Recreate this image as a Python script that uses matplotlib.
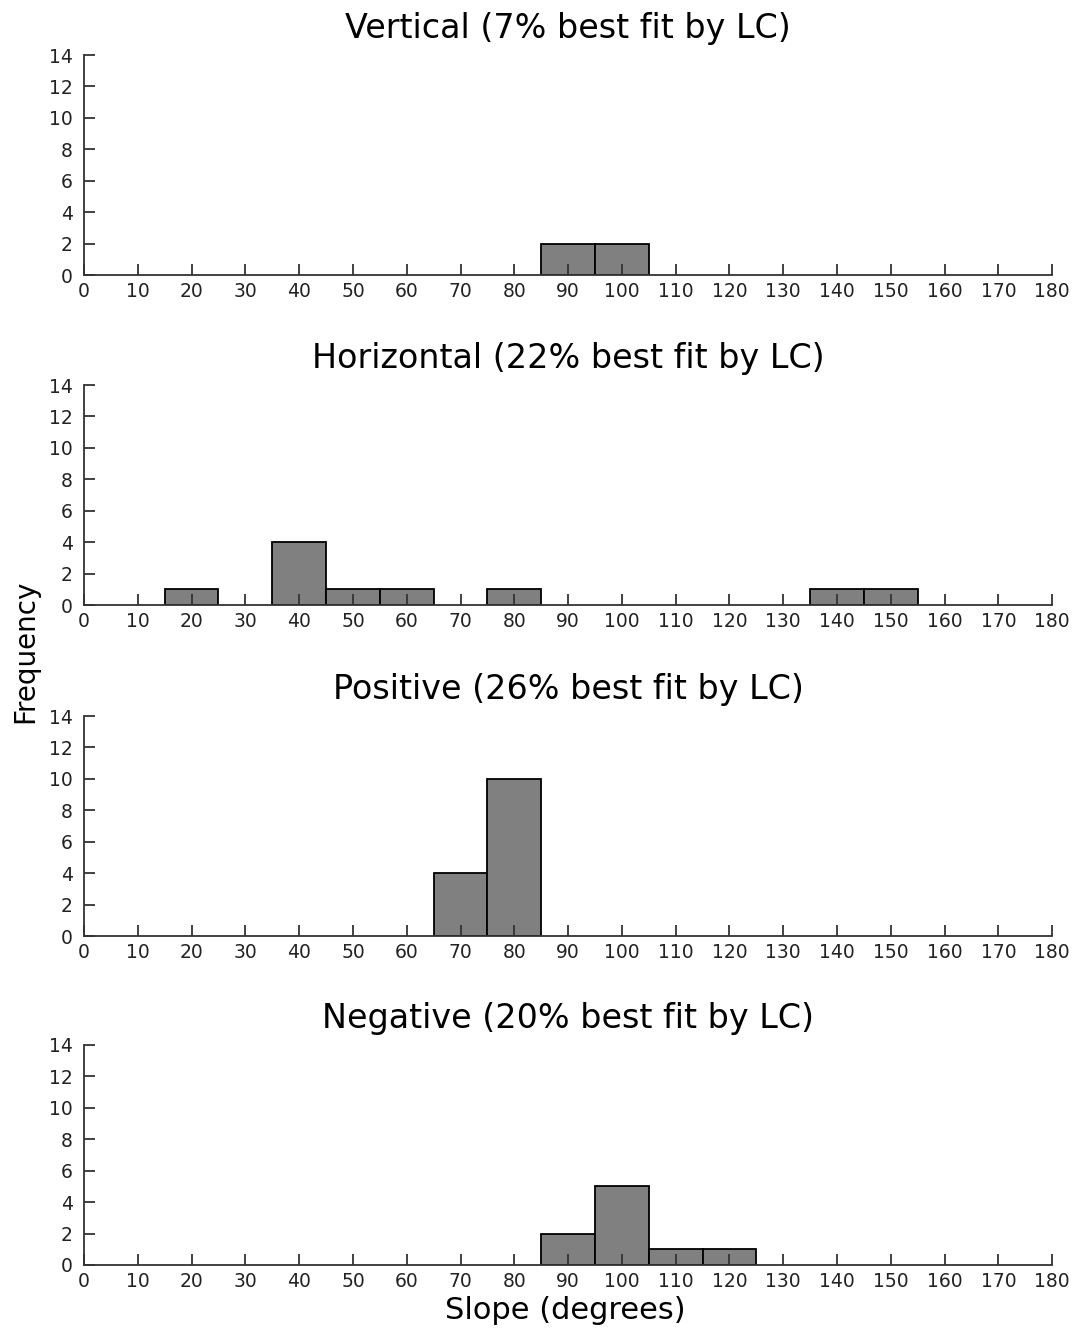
import matplotlib
matplotlib.use('Agg')
from matplotlib import rcParams
rcParams['font.family'] = ['DejaVu Sans']
import matplotlib.pyplot as plt
import numpy as np

# histogram data: bin centres (degrees) and counts
bin_centers = [0, 10, 20, 30, 40, 50, 60, 70, 80, 90, 100, 110, 120, 130, 140, 150, 160, 170, 180]
titles = ['Vertical (7% best fit by LC)',
          'Horizontal (22% best fit by LC)',
          'Positive (26% best fit by LC)',
          'Negative (20% best fit by LC)']
vertical_counts   = [0, 0, 0, 0, 0, 0, 0, 0, 0, 2, 2, 0, 0, 0, 0, 0, 0, 0, 0]
horizontal_counts = [0, 0, 1, 0, 4, 1, 1, 0, 1, 0, 0, 0, 0, 0, 1, 1, 0, 0, 0]
positive_counts   = [0, 0, 0, 0, 0, 0, 0, 4, 10, 0, 0, 0, 0, 0, 0, 0, 0, 0, 0]
negative_counts   = [0, 0, 0, 0, 0, 0, 0, 0, 0, 2, 5, 1, 1, 0, 0, 0, 0, 0, 0]
xticks = list(range(0, 181, 10))
yticks = list(range(0, 15, 2))

all_counts = [vertical_counts, horizontal_counts, positive_counts, negative_counts]

fig = plt.figure(figsize=(10.77, 13.3), dpi=100)
left, width, height = 0.078, 0.899, 0.1654
bottoms = [0.7932, 0.5451, 0.2962, 0.0489]

for title, counts, b in zip(titles, all_counts, bottoms):
    ax = fig.add_axes([left, b, width, height])
    c = np.array(counts)
    mask = c > 0
    ax.bar(np.array(bin_centers)[mask], c[mask], width=10, color='#808080',
           edgecolor='black', linewidth=1.3)
    ax.set_xlim(0, 180)
    ax.set_ylim(0, 14)
    ax.set_xticks(xticks)
    ax.set_yticks(yticks)
    ax.spines['top'].set_visible(False)
    ax.spines['right'].set_visible(False)
    for s in ['left', 'bottom']:
        ax.spines[s].set_linewidth(1.3)
        ax.spines[s].set_color('#333333')
    ax.tick_params(axis='both', direction='in', length=8, width=1.3,
                   color='#333333', labelsize=13.5, labelcolor='#222222')
    ax.tick_params(axis='x', pad=5)
    ax.tick_params(axis='y', pad=8)
    ax.set_title(title, fontsize=24, pad=12)

fig.text(0.023, 0.51, 'Frequency', rotation=90, ha='center', va='center', fontsize=20)
fig.text(0.525, 0.015, 'Slope (degrees)', ha='center', va='center', fontsize=22)

fig.savefig('out.png', dpi=100)
plt.close(fig)
